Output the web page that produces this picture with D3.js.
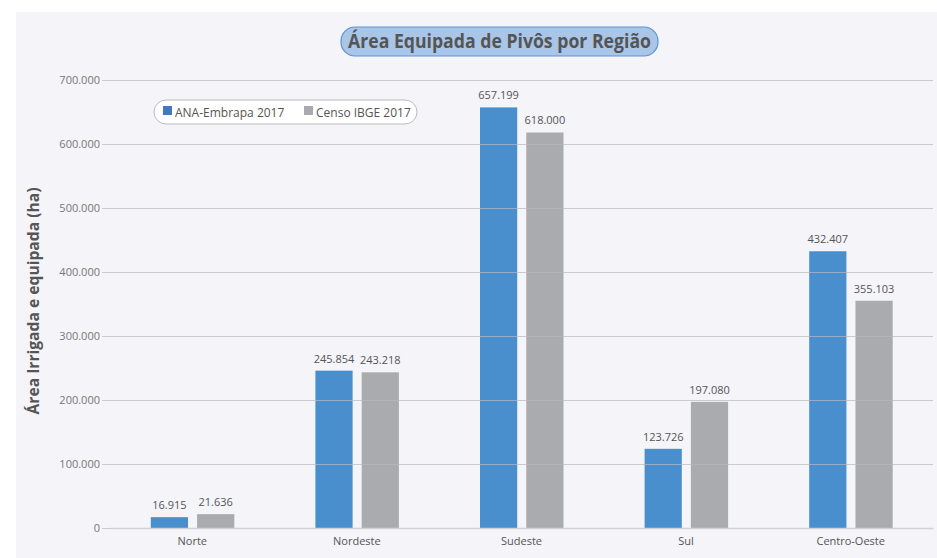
<!DOCTYPE html>
<html><head><meta charset="utf-8">
<script src="https://cdn.jsdelivr.net/npm/d3@7"></script>
<style>body{margin:0;background:#fff}svg{display:block}text{font-family:"Open Sans","Noto Sans",sans-serif}</style>
</head><body>
<svg id="c" width="937" height="558"></svg>
<script>
const categories = ["Norte","Nordeste","Sudeste","Sul","Centro-Oeste"];
const seriesNames = ["ANA-Embrapa 2017","Censo IBGE 2017"];
const anaValues = [16915, 245854, 657199, 123726, 432407];
const ibgeValues = [21636, 243218, 618000, 197080, 355103];
const yTicks = [0,100000,200000,300000,400000,500000,600000,700000];
const colors = ["#4a8fcd","#a9abae"];

const locale = d3.formatLocale({decimal:",", thousands:".", grouping:[3], currency:["",""]});
const fmt = locale.format(",d");

const svg = d3.select("#c");
svg.append("rect").attr("x",16).attr("y",12).attr("width",921).attr("height",546).attr("fill","#f4f4f9");

const x = d3.scaleBand().domain(categories).range([110,933]);
const y = d3.scaleLinear().domain([0,700000]).range([528,80]);
const x1 = d3.scaleBand().domain(seriesNames).range([-41.5,42]).paddingInner(0.196);

const data = categories.map((c,i)=>({cat:c, vals:[anaValues[i], ibgeValues[i]]}));

// bars
const g = svg.append("g");
data.forEach(d=>{
  const cx = x(d.cat)+x.bandwidth()/2;
  d.vals.forEach((v,j)=>{
    const bx = cx + x1(seriesNames[j]);
    g.append("rect").attr("x",bx).attr("y",y(v)).attr("width",x1.bandwidth()).attr("height",y(0)-y(v)).attr("fill",colors[j]);
    g.append("text").attr("x",bx+x1.bandwidth()/2).attr("y",y(v)-8).attr("text-anchor","middle")
      .attr("font-size",11).attr("fill","#555").text(fmt(v));
  });
});

// grid (over bars)
const yAxis = d3.axisLeft(y).tickValues(yTicks).tickFormat(d=>fmt(d)).tickSize(-823).tickPadding(10);
const ga = svg.append("g").attr("transform","translate(110,0)").call(yAxis);
ga.select(".domain").remove();
ga.selectAll(".tick line").attr("stroke","#b8b8c0").attr("stroke-opacity",0.7).attr("x1",-8);
ga.selectAll(".tick text").attr("font-size",11).attr("fill","#777").attr("font-family","'Open Sans',sans-serif");

// x axis labels
const xa = svg.append("g").attr("transform","translate(0,528)").call(d3.axisBottom(x).tickSize(0).tickPadding(9));
xa.select(".domain").attr("stroke","#d0d0d6").attr("stroke-width",1.5);
xa.selectAll(".tick text").attr("font-size",11).attr("fill","#555").attr("font-family","'Open Sans',sans-serif");

// y axis title
svg.append("text").attr("transform","translate(39,301) rotate(-90)").attr("text-anchor","middle")
  .attr("font-size",16).attr("font-weight","bold").attr("fill","#555")
  .attr("textLength",227).attr("lengthAdjust","spacingAndGlyphs").text("Área Irrigada e equipada (ha)");

// title
svg.append("rect").attr("x",341).attr("y",27).attr("width",317).attr("height",29).attr("rx",14)
  .attr("fill","#a9c5e8").attr("stroke","#5c94d4").attr("stroke-width",1.2);
svg.append("text").attr("x",499.5).attr("y",48).attr("text-anchor","middle").attr("font-size",19)
  .attr("font-weight","bold").attr("fill","#555")
  .attr("textLength",303).attr("lengthAdjust","spacingAndGlyphs").text("Área Equipada de Pivôs por Região");

// legend
svg.append("rect").attr("x",154).attr("y",100).attr("width",263).attr("height",24).attr("rx",12)
  .attr("fill","#fff").attr("stroke","#bbb");
const legX = [163, 304];
seriesNames.forEach((s,j)=>{
  svg.append("rect").attr("x",legX[j]).attr("y",106).attr("width",9).attr("height",9).attr("fill",j===0?"#3f79c4":colors[j]);
  svg.append("text").attr("x",legX[j]+12).attr("y",117).attr("font-size",12).attr("fill","#555").text(s);
});
</script>
</body></html>
